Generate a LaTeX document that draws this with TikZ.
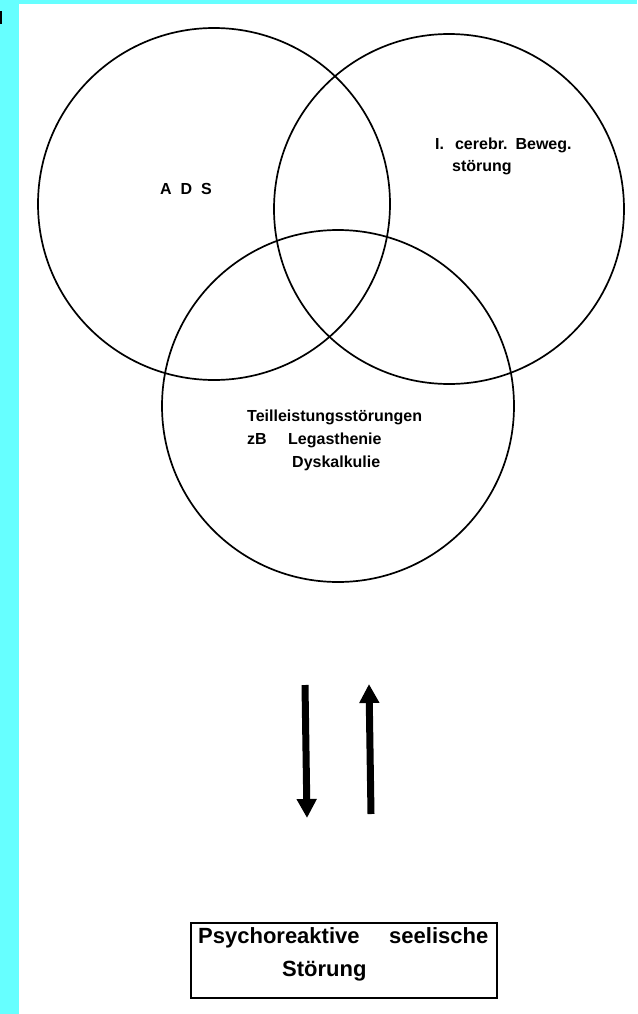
\documentclass[tikz,border=0pt]{standalone}
\usepackage{fontspec}
\setmainfont{Liberation Sans}
\usetikzlibrary{arrows.meta}
\definecolor{framecyan}{RGB}{102,255,255}
\begin{document}
\begin{tikzpicture}[x=1pt,y=-1pt,
  ring/.style={draw=black,line width=1.7pt,circle,inner sep=0pt},
  lbl/.style={inner sep=0pt,font=\bfseries\fontsize{#1}{#1}\selectfont},
  lbl/.default=16,
  bigarrow/.style={line width=7pt,-{Triangle[width=19pt,length=19pt]}},
  boxstyle/.style={draw=black,line width=2.2pt,inner sep=0pt}]
\useasboundingbox (0,0) rectangle (637,1014);
\fill[framecyan] (0,0) rectangle (637,1014);
\fill[white] (19,4) rectangle (637,1014);
\fill[black] (0,11) rectangle (1.5,24);
% circles
\node[ring,minimum size=352pt] (c1) at (214,204) {};
\node[ring,minimum size=350pt] (c2) at (449,209) {};
\node[ring,minimum size=352pt] (c3) at (338,406) {};
% texts in circles
\node[lbl=16,anchor=mid] (ads) at (186,192) {A\hspace{9pt}D\hspace{9pt}S};
\node[lbl=16,anchor=mid west] (cer1) at (435,147) {I.\hspace{11pt}cerebr.\hspace{8pt}Beweg.};
\node[lbl=16,anchor=mid west] (cer2) at (452,169) {störung};
\node[lbl=16,anchor=mid west] (tl1) at (247,419) {Teilleistungsstörungen};
\node[lbl=16,anchor=mid west] (tl2a) at (247,442) {zB};
\node[lbl=16,anchor=mid west] (tl2b) at (288,442) {Legasthenie};
\node[lbl=16,anchor=mid west] (tl3) at (292,465) {Dyskalkulie};
% arrows
\coordinate (d1) at (305,685);
\coordinate (d2) at (307,818);
\coordinate (u1) at (371,814);
\coordinate (u2) at (369,684);
\draw[bigarrow] (d1) -- (d2);
\draw[bigarrow] (u1) -- (u2);
% box
\node[boxstyle,minimum width=306pt,minimum height=75pt] (box) at (344,960.5) {};
\node[lbl=22,anchor=mid west] (p1) at (198,941) {Psychoreaktive};
\node[lbl=22,anchor=mid west] (p2) at (389,941) {seelische};
\node[lbl=22,anchor=mid west] (p3) at (282,974) {Störung};
\end{tikzpicture}
\end{document}
